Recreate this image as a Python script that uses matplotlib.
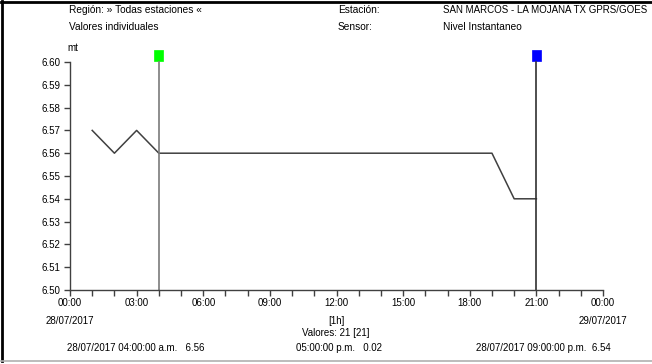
import matplotlib
matplotlib.use("Agg")
import matplotlib.pyplot as plt
from matplotlib.patches import Rectangle
from matplotlib.lines import Line2D
import matplotlib.transforms as mtransforms

plt.rcParams['font.family'] = ['Liberation Sans Narrow', 'Liberation Sans', 'DejaVu Sans']

# data
hours = list(range(1, 22))
values = [6.57, 6.56, 6.57, 6.56] + [6.56] * 15 + [6.54, 6.54]
cursor_hours = [4, 21]
cursor_colors = ['#00ff00', '#0000ff']
cursor_line_colors = ['#7a7a7a', '#303030']
y_ticks = [6.50, 6.51, 6.52, 6.53, 6.54, 6.55, 6.56, 6.57, 6.58, 6.59, 6.60]
x_tick_hours = list(range(0, 25))
x_label_text = {0: "00:00", 3: "03:00", 6: "06:00", 9: "09:00", 12: "12:00",
                15: "15:00", 18: "18:00", 21: "21:00", 24: "00:00"}

W, H = 652, 364
fig = plt.figure(figsize=(W / 100, H / 100), dpi=100)
fig.patch.set_facecolor('white')

def fx(px):
    return px / W

def fy(py):
    return 1 - py / H

ax = fig.add_axes([fx(70), fy(290), fx(603) - fx(70), fy(62) - fy(290)])
ax.plot(hours, values, color='#404040', lw=1.1)
ax.set_xlim(0, 24)
ax.set_ylim(6.50, 6.60)
for s in ['top', 'right']:
    ax.spines[s].set_visible(False)
for s in ['left', 'bottom']:
    ax.spines[s].set_color('#404040')
    ax.spines[s].set_linewidth(1.0)
ax.set_yticks(y_ticks)
ax.set_yticklabels([f"{v:.2f}" for v in y_ticks])
ax.set_xticks(x_tick_hours)
ax.set_xticklabels([x_label_text.get(h, "") for h in x_tick_hours])
ax.tick_params(axis='both', direction='out', length=4, width=1, color='#404040',
               labelsize=7, pad=2)
ax.tick_params(axis='y', pad=3)

trans = mtransforms.blended_transform_factory(ax.transData, ax.transAxes)
for h, c, lc in zip(cursor_hours, cursor_colors, cursor_line_colors):
    ax.add_line(Line2D([h, h], [0, 1], transform=trans, color=lc, lw=1.2, clip_on=False))
    ax.add_patch(Rectangle((h - 0.2, 1.0 + 1 / 228), 0.4, 11 / 228, transform=trans,
                           facecolor=c, edgecolor=c, lw=0.5, clip_on=False, alpha=1))

fs = 7
hfs = 7.3
fig.text(fx(69), fy(10), "Región: » Todas estaciones «", fontsize=hfs, va='center', ha='left')
fig.text(fx(69), fy(27), "Valores individuales", fontsize=hfs, va='center', ha='left')
fig.text(fx(338), fy(10), "Estación:", fontsize=hfs, va='center', ha='left')
fig.text(fx(338), fy(27), "Sensor:", fontsize=hfs, va='center', ha='left')
fig.text(fx(443), fy(10), "SAN MARCOS - LA MOJANA TX GPRS/GOES", fontsize=7.0, va='center', ha='left')
fig.text(fx(443), fy(27), "Nivel Instantaneo", fontsize=hfs, va='center', ha='left')
fig.text(fx(67), fy(48), "mt", fontsize=fs, va='center', ha='left')

fig.text(fx(70), fy(321), "28/07/2017", fontsize=fs, va='center', ha='center')
fig.text(fx(336), fy(321), "[1h]", fontsize=fs, va='center', ha='center')
fig.text(fx(603), fy(321), "29/07/2017", fontsize=fs, va='center', ha='center')
fig.text(fx(336), fy(333), "Valores: 21 [21]", fontsize=fs, va='center', ha='center')
fig.text(fx(67), fy(348), "28/07/2017 04:00:00 a.m.   6.56", fontsize=fs, va='center', ha='left')
fig.text(fx(296), fy(348), "05:00:00 p.m.   0.02", fontsize=fs, va='center', ha='left')
fig.text(fx(476), fy(348), "28/07/2017 09:00:00 p.m.  6.54", fontsize=fs, va='center', ha='left')

# window frame
fig.add_artist(Line2D([fx(2), fx(2)], [fy(1), fy(361)], color='black', lw=2))
fig.add_artist(Line2D([fx(1), fx(652)], [fy(2), fy(2)], color='black', lw=2))
fig.add_artist(Line2D([fx(1), fx(652)], [fy(361), fy(361)], color='#b0b0b0', lw=1.2))

fig.savefig("out.png", dpi=100)
